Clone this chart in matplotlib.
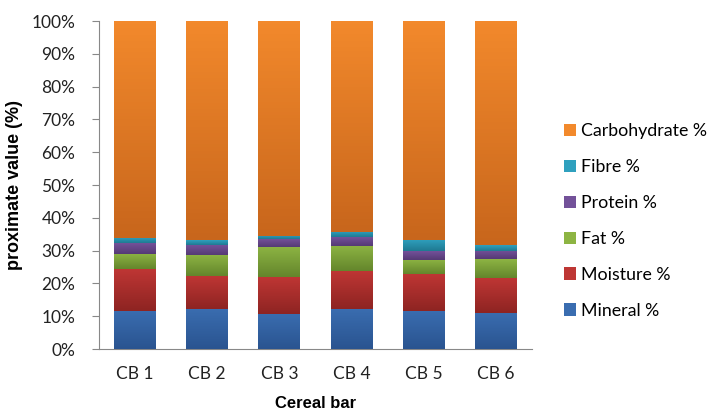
import matplotlib
matplotlib.use("Agg")
import matplotlib.pyplot as plt
import numpy as np
from matplotlib.colors import to_rgb

categories = ["CB 1", "CB 2", "CB 3", "CB 4", "CB 5", "CB 6"]
mineral = [11.7, 12.3, 10.8, 12.2, 11.6, 11.1]
moisture = [12.6, 9.9, 11.1, 11.5, 11.2, 10.6]
fat = [4.8, 6.6, 9.3, 7.8, 4.4, 5.7]
protein = [3.1, 2.9, 2.2, 2.6, 2.7, 2.6]
fibre = [1.7, 1.5, 1.1, 1.6, 3.4, 1.7]
carbohydrate = [66.1, 66.8, 65.5, 64.3, 66.7, 68.3]

series = [
    ("Mineral %", mineral, "#3A6DB0", "#2A5490"),
    ("Moisture %", moisture, "#BE3634", "#8E2422"),
    ("Fat %", fat, "#8DB443", "#64862C"),
    ("Protein %", protein, "#735199", "#553A75"),
    ("Fibre %", fibre, "#2FA0BE", "#1F7A92"),
    ("Carbohydrate %", carbohydrate, "#F2892C", "#C8661C"),
]

plt.rcParams['font.family'] = ['Lato', 'DejaVu Sans']
fig = plt.figure(figsize=(7.16, 4.13), dpi=100)
ax = fig.add_axes([99/716, 1 - 349/413, (532-99)/716, (349-21)/413])

x = np.arange(len(categories))
totals = np.sum([s[1] for s in series], axis=0)
bottom = np.zeros(len(categories))
handles = []
for name, vals, c_top, c_bot in series:
    pct = np.array(vals) / totals * 100
    bars = ax.bar(x, pct, 0.58, bottom=bottom, color=c_top, label=name,
                  edgecolor='none', zorder=2)
    handles.append(bars)
    grad = np.linspace(0, 1, 64)[:, None]
    ct, cb = np.array(to_rgb(c_top)), np.array(to_rgb(c_bot))
    img = (cb[None, None, :] * (1 - grad[:, :, None]) + ct[None, None, :] * grad[:, :, None])
    for b in bars:
        x0, y0, w, h = b.get_x(), b.get_y(), b.get_width(), b.get_height()
        im = ax.imshow(img, extent=(x0, x0 + w, y0, y0 + h), origin='lower',
                       aspect='auto', zorder=3)
        im.set_clip_path(b)
    bottom += pct

ax.set_xlim(-0.5, len(categories) - 0.5)
ax.set_ylim(0, 100)
ax.set_yticks(np.arange(0, 101, 10))
ax.set_yticklabels([f"{v}%" for v in range(0, 101, 10)], fontsize=12.5, color='#222222')
ax.set_xticks(x)
ax.set_xticklabels(categories, fontsize=12.5, color='#222222')
ax.tick_params(axis='x', length=0, pad=12)
ax.tick_params(axis='y', length=5, color='#888888', pad=12)
for s in ['top', 'right']:
    ax.spines[s].set_visible(False)
ax.spines['left'].set_color('#888888')
ax.spines['bottom'].set_color('#888888')

ax.set_ylabel("proximate value (%)", fontsize=13, fontweight='bold',
              family=['Liberation Sans', 'DejaVu Sans'], labelpad=6)
ax.set_xlabel("Cereal bar", fontsize=12, fontweight='bold',
              family=['Liberation Sans', 'DejaVu Sans'], labelpad=10)

leg = fig.legend(handles[::-1], [s[0] for s in series][::-1],
                 loc='center left', bbox_to_anchor=(548/716, 1 - 221/413),
                 frameon=False, fontsize=12.8, handlelength=0.7, handleheight=0.7,
                 labelspacing=1.12, handletextpad=0.25)

fig.savefig("out.png", dpi=100)
